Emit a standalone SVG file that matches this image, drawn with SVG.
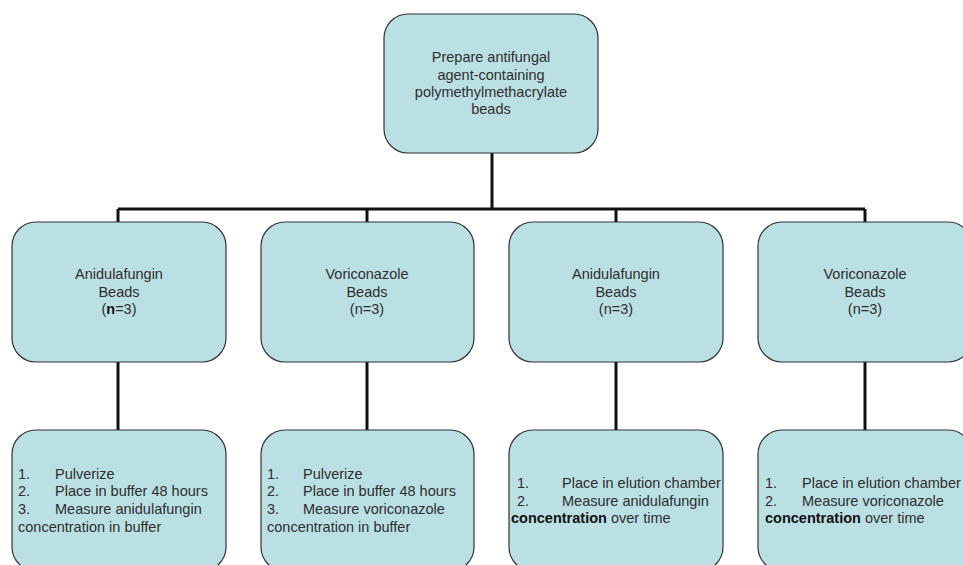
<svg xmlns="http://www.w3.org/2000/svg" width="963" height="565" viewBox="0 0 963 565">
<style>
.box{fill:#bae0e3;stroke:#333;stroke-width:1.2}
.t{font-family:"Liberation Sans",Arial,sans-serif;font-size:14.5px;fill:#2e2e2e}
.c{text-anchor:middle}
.b{font-weight:bold;fill:#111}
.con{stroke:#111;stroke-width:3;fill:none}
</style>
<rect width="963" height="565" fill="#fff"/>
<g id="connectors">
<path class="con" d="M492,153 V209 M118,209 H865 M118,209 V222 M367,209 V222 M616,209 V222 M865,209 V222"/>
<path class="con" d="M118,362 V430 M367,362 V430 M616,362 V430 M865,362 V430"/>
</g>
<g id="top">
<rect class="box" x="384" y="14" width="214" height="139" rx="24"/>
<text class="t c" x="491" y="62">Prepare antifungal</text>
<text class="t c" x="491" y="79.5">agent-containing</text>
<text class="t c" x="491" y="97">polymethylmethacrylate</text>
<text class="t c" x="491" y="114">beads</text>
</g>
<g id="beads1">
<rect class="box" x="12" y="222" width="214" height="140" rx="24"/>
<text class="t c" x="119" y="279">Anidulafungin</text>
<text class="t c" x="119" y="296.5">Beads</text>
<text class="t c" x="119" y="313.5">(<tspan class="b">n</tspan>=3)</text>
</g>
<g id="beads2">
<rect class="box" x="261" y="222" width="213" height="140" rx="24"/>
<text class="t c" x="367" y="279">Voriconazole</text>
<text class="t c" x="367" y="296.5">Beads</text>
<text class="t c" x="367" y="313.5">(n=3)</text>
</g>
<g id="beads3">
<rect class="box" x="509" y="222" width="214" height="140" rx="24"/>
<text class="t c" x="616" y="279">Anidulafungin</text>
<text class="t c" x="616" y="296.5">Beads</text>
<text class="t c" x="616" y="313.5">(n=3)</text>
</g>
<g id="beads4">
<rect class="box" x="758" y="222" width="214" height="140" rx="24"/>
<text class="t c" x="865" y="279">Voriconazole</text>
<text class="t c" x="865" y="296.5">Beads</text>
<text class="t c" x="865" y="313.5">(n=3)</text>
</g>
<g id="steps1">
<rect class="box" x="12" y="430" width="214" height="141" rx="24"/>
<text class="t" x="18" y="478.5">1.</text><text class="t" x="55" y="478.5">Pulverize</text>
<text class="t" x="18" y="496.3">2.</text><text class="t" x="55" y="496.3">Place in buffer 48 hours</text>
<text class="t" x="18" y="514">3.</text><text class="t" x="55" y="514">Measure anidulafungin</text>
<text class="t" x="18" y="531.8">concentration in buffer</text>
</g>
<g id="steps2">
<rect class="box" x="261" y="430" width="213" height="141" rx="24"/>
<text class="t" x="267" y="478.5">1.</text><text class="t" x="303" y="478.5">Pulverize</text>
<text class="t" x="267" y="496.3">2.</text><text class="t" x="303" y="496.3">Place in buffer 48 hours</text>
<text class="t" x="267" y="514">3.</text><text class="t" x="303" y="514">Measure voriconazole</text>
<text class="t" x="267" y="531.8">concentration in buffer</text>
</g>
<g id="steps3">
<rect class="box" x="509" y="430" width="214" height="141" rx="24"/>
<text class="t" x="517" y="487.7">1.</text><text class="t" x="562" y="487.7">Place in elution chamber</text>
<text class="t" x="517" y="505.5">2.</text><text class="t" x="562" y="505.5">Measure anidulafungin</text>
<text class="t" x="511" y="523.3"><tspan class="b">concentration</tspan> over time</text>
</g>
<g id="steps4">
<rect class="box" x="758" y="430" width="214" height="141" rx="24"/>
<text class="t" x="765" y="487.7">1.</text><text class="t" x="802" y="487.7">Place in elution chamber</text>
<text class="t" x="765" y="505.5">2.</text><text class="t" x="802" y="505.5">Measure voriconazole</text>
<text class="t" x="765" y="523.3"><tspan class="b">concentration</tspan> over time</text>
</g>
</svg>
